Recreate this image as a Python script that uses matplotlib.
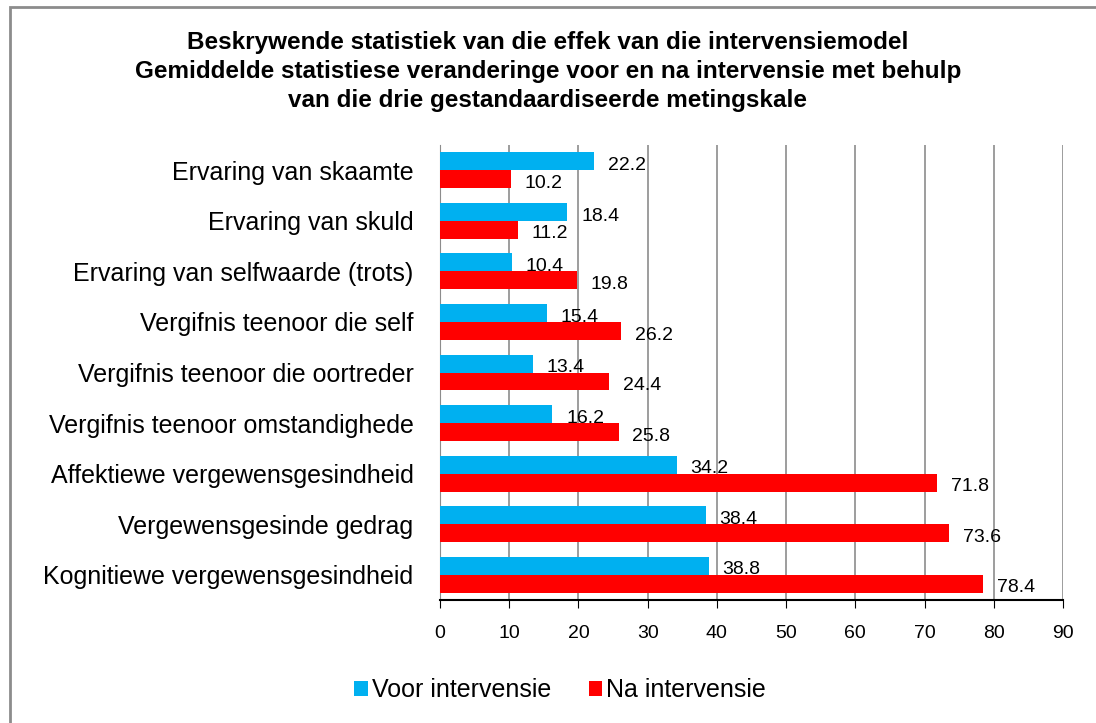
import matplotlib
matplotlib.use("Agg")
import matplotlib.pyplot as plt
import numpy as np
from matplotlib.patches import Rectangle

plt.rcParams['font.family'] = ['Liberation Sans', 'DejaVu Sans']

categories = ["Ervaring van skaamte", "Ervaring van skuld", "Ervaring van selfwaarde (trots)",
              "Vergifnis teenoor die self", "Vergifnis teenoor die oortreder",
              "Vergifnis teenoor omstandighede", "Affektiewe vergewensgesindheid",
              "Vergewensgesinde gedrag", "Kognitiewe vergewensgesindheid"]
voor = [22.2, 18.4, 10.4, 15.4, 13.4, 16.2, 34.2, 38.4, 38.8]
na = [10.2, 11.2, 19.8, 26.2, 24.4, 25.8, 71.8, 73.6, 78.4]
xticks = [0, 10, 20, 30, 40, 50, 60, 70, 80, 90]

blue = "#00B0F0"
red = "#FF0000"

fig = plt.figure(figsize=(10.96, 7.23), dpi=100)
ax = fig.add_axes([440/1096, 1-600/723, 623/1096, 455/723])

n = len(categories)
y = np.arange(n)[::-1]  # first category on top
h = 0.355
b1 = ax.barh(y + h/2, voor, height=h, color=blue, label="Voor intervensie", zorder=3)
b2 = ax.barh(y - h/2, na, height=h, color=red, label="Na intervensie", zorder=3)

for yy, v in zip(y + h/2, voor):
    ax.annotate(f"{v:.1f}", (v, yy), xytext=(10, -3), textcoords="offset points",
                va="center", ha="left", fontsize=14)
for yy, v in zip(y - h/2, na):
    ax.annotate(f"{v:.1f}", (v, yy), xytext=(10, -3), textcoords="offset points",
                va="center", ha="left", fontsize=14)

ax.set_xlim(0, 90)
ax.set_ylim(-0.5, n - 0.5)
ax.set_xticks(xticks)
ax.set_yticks(y)
ax.set_yticklabels(categories, fontsize=18)
ax.tick_params(axis="y", length=0, pad=19)
ax.tick_params(axis="x", labelsize=14, length=6, direction="out", pad=12)
ax.xaxis.grid(True, color="#8c8c8c", linewidth=1.2, zorder=0)
ax.spines["top"].set_visible(False)
ax.spines["right"].set_visible(False)
ax.spines["left"].set_color("#8c8c8c")
ax.spines["bottom"].set_color("black")
ax.spines["bottom"].set_linewidth(1.5)

fig.text(0.5, 1-31/723, "Beskrywende statistiek van die effek van die intervensiemodel\n"
         "Gemiddelde statistiese veranderinge voor en na intervensie met behulp\n"
         "van die drie gestandaardiseerde metingskale",
         ha="center", va="top", fontsize=17.5, fontweight="bold", linespacing=1.33)

fig.legend(handles=[b1, b2], loc="center", bbox_to_anchor=(560/1096, 1-690/723),
           ncol=2, frameon=False, fontsize=18, handlelength=0.55, handleheight=0.55,
           handletextpad=0.15, columnspacing=1.5)

fig.patches.append(Rectangle((9.5/1096, -0.1), 1.2, 1 - 7.5/723 + 0.1, transform=fig.transFigure,
                             fill=False, edgecolor="#8c8c8c", linewidth=2))

fig.savefig("out.png", dpi=100)
